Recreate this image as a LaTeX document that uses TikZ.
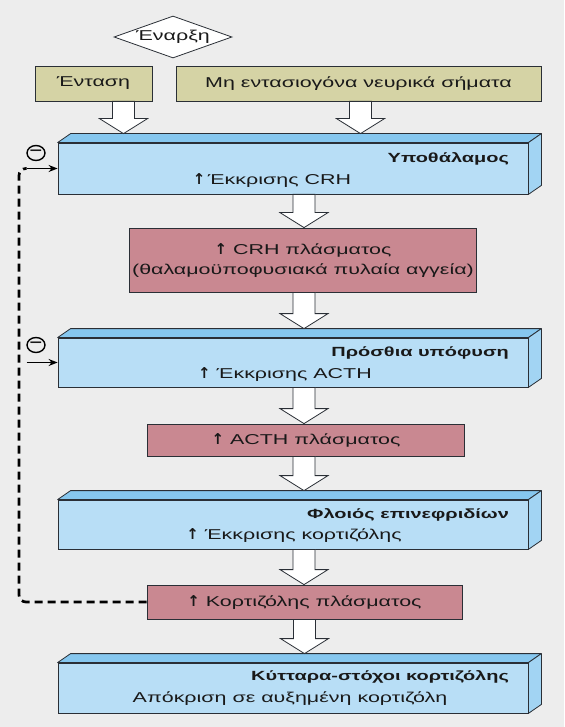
\documentclass[tikz,border=0pt]{standalone}
\usepackage{fontspec}
\setmainfont{Liberation Sans}[FakeStretch=1.5]
\newfontfamily\arrowfont{DejaVu Sans}
\usepackage{tikz}
\usetikzlibrary{shapes.geometric,arrows.meta,calc}
\definecolor{FigureInk}{HTML}{2A2F36}
\definecolor{BackGray}{HTML}{EDEDED}
\definecolor{TanFill}{HTML}{D5D3A5}
\definecolor{BlueFront}{HTML}{B8DEF6}
\definecolor{BlueTop}{HTML}{86C7EF}
\definecolor{BlueSide}{HTML}{A2D4F3}
\definecolor{RoseFill}{HTML}{C98891}
\newcommand{\Up}{{\arrowfont\bfseries\fontsize{15}{15}\selectfont ↑}}
\newcommand{\OrganDepth}[1]{%
  \filldraw[fill=BlueTop,draw=FigureInk,line width=0.8pt,line join=round]
    (#1.north west) -- ++(13pt,9pt) -- ([shift={(13pt,9pt)}]#1.north east) -- (#1.north east) -- cycle;%
  \filldraw[fill=BlueSide,draw=FigureInk,line width=0.8pt,line join=round]
    (#1.north east) -- ++(13pt,9pt) -- ([shift={(13pt,9pt)}]#1.south east) -- (#1.south east) -- cycle;%
}

\begin{document}
\begin{tikzpicture}[
  x=1pt,y=-1pt,
  font=\fontsize{14.3}{20}\selectfont,
  text=black!90,
  trigger/.style={draw=FigureInk,fill=TanFill,line width=0.8pt,minimum height=35pt,inner sep=0pt},
  organ/.style={draw=FigureInk,fill=BlueFront,line width=0.8pt,minimum width=470pt,inner sep=0pt},
  plasma/.style={draw=FigureInk,fill=RoseFill,line width=0.8pt,inner sep=0pt,align=center},
  title/.style={font=\fontsize{13.3}{15}\selectfont\bfseries,anchor=east},
  flow/.style={draw=FigureInk,fill=white,line width=0.8pt,
    to path={let \p1=(\tikztostart),\p2=(\tikztotarget) in
      (\x1-11pt,\y1) -- (\x1+11pt,\y1) -- (\x1+11pt,\y2+15pt) -- (\x1+24pt,\y2+15pt)
      -- (\x1,\y2) -- (\x1-24pt,\y2+15pt) -- (\x1-11pt,\y2+15pt) -- cycle}},
  feedback/.style={draw=black,line width=2.7pt,dash pattern=on 8pt off 5pt,rounded corners=7pt},
  inhibit/.style={draw=black,line width=1.5pt,-{Stealth[length=9pt,width=7pt]}},
  minus/.style={ellipse,draw=black,line width=1.4pt,minimum width=18pt,minimum height=15pt,inner sep=0pt},
]
  \useasboundingbox (0,0) rectangle (564,727);
  \fill[BackGray] (0,0) rectangle (564,727);

  \node[diamond,draw=FigureInk,fill=white,line width=0.8pt,aspect=2.8,
    minimum width=118pt,minimum height=42pt,inner sep=0pt] (start) at (173,37) {Έναρξη};
  \node[trigger,minimum width=117pt] (stress) at (93.5,83.5) {Ένταση};
  \node[trigger,minimum width=365pt] (neural) at (358.5,83.5) {Μη εντασιογόνα νευρικά σήματα};

  \node[organ,minimum height=51pt] (hypo) at (293,168.5) {};
  \OrganDepth{hypo}
  \node[title] at ([xshift=-16pt,yshift=10pt]hypo.east) {Υποθάλαμος};
  \node at ([xshift=-21pt,yshift=-12pt]hypo.center) {\Up\,Έκκρισης CRH};

  \node[plasma,minimum width=347pt,minimum height=64pt] (crh) at (303,260)
    {\Up\ CRH πλάσματος\\(θαλαμοϋποφυσιακά πυλαία αγγεία)};

  \node[organ,minimum height=49pt] (pit) at (293,362.5) {};
  \OrganDepth{pit}
  \node[title] at ([xshift=-16pt,yshift=10pt]pit.east) {Πρόσθια υπόφυση};
  \node at ([xshift=-8pt,yshift=-12pt]pit.center) {\Up\ Έκκρισης ACTH};

  \node[plasma,minimum width=317pt,minimum height=32pt] (acth) at (306,440) {\Up\ ACTH πλάσματος};

  \node[organ,minimum height=49pt] (adrenal) at (293,524.5) {};
  \OrganDepth{adrenal}
  \node[title] at ([xshift=-16pt,yshift=10pt]adrenal.east) {Φλοιός επινεφριδίων};
  \node at ([xshift=1pt,yshift=-11pt]adrenal.center) {\Up\ Έκκρισης κορτιζόλης};

  \node[plasma,minimum width=315pt,minimum height=34pt] (cort) at (304.5,602) {\Up\ Κορτιζόλης πλάσματος};

  \node[organ,minimum height=50pt] (target) at (293,688) {};
  \OrganDepth{target}
  \node[title] at ([xshift=-16pt,yshift=11pt]target.east) {Κύτταρα-στόχοι κορτιζόλης};
  \node at ([xshift=-3pt,yshift=-11pt]target.center) {Απόκριση σε αυξημένη κορτιζόλη};

  \draw[flow] ([xshift=30pt]stress.south) to ([yshift=9pt]hypo.north);
  \draw[flow] ([xshift=2pt]neural.south) to ([yshift=9pt]hypo.north);
  \draw[flow] ([xshift=11pt]hypo.south) to (crh.north);
  \draw[flow] ([xshift=1pt]crh.south) to ([yshift=9pt]pit.north);
  \draw[flow] ([xshift=11pt]pit.south) to (acth.north);
  \draw[flow] ([xshift=-2pt]acth.south) to ([yshift=9pt]adrenal.north);
  \draw[flow] ([xshift=11pt]adrenal.south) to (cort.north);
  \draw[flow] (cort.south) to ([yshift=9pt]target.north);

  \coordinate (tap1) at ([xshift=-31pt]hypo.west);
  \coordinate (tap2) at ([xshift=-31pt]pit.west);
  \coordinate (rail) at (19,0);
  \draw[feedback] (cort.west) -| (rail |- tap1) -- (tap1);
  \draw[inhibit] (tap1) -- (hypo.west);
  \draw[inhibit] (tap2) -- (pit.west);
  \node[minus] (minus1) at (36,153) {\textbf{−}};
  \node[minus] (minus2) at (36,345) {\textbf{−}};
\end{tikzpicture}
\end{document}
